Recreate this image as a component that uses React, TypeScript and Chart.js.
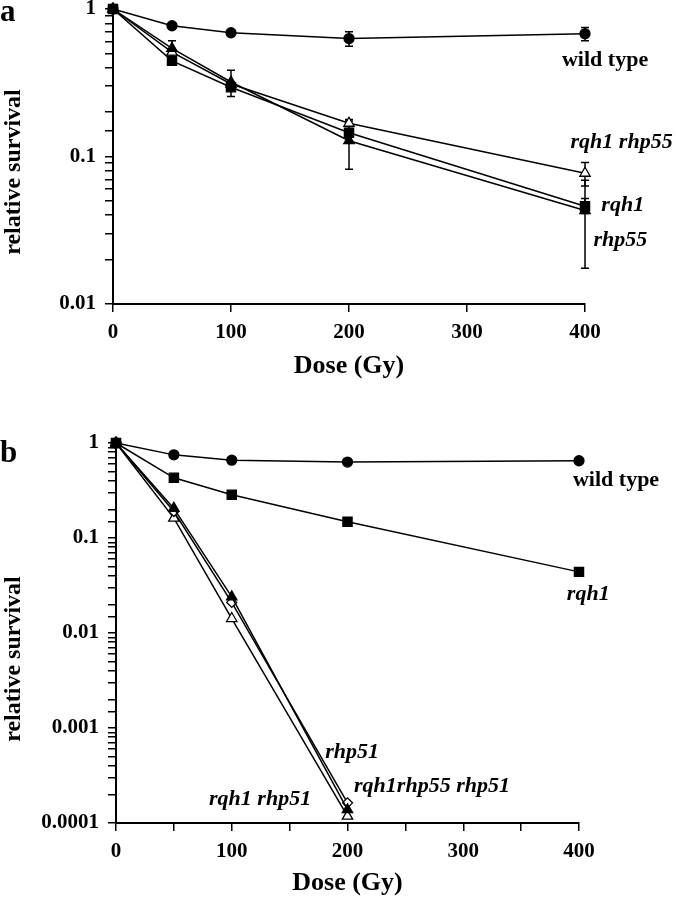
import React, { useEffect, useRef } from 'react';
import { Chart, registerables } from 'chart.js';
Chart.register(...registerables);

const FONT = "'Liberation Serif', 'Times New Roman', serif";

// ---------- Panel a data ----------
const doseA = [0, 50, 100, 200, 400];
const wildTypeA = [1, 0.77, 0.69, 0.63, 0.68];
const rqh1A = [1, 0.445, 0.295, 0.145, 0.046];
const rhp55A = [1, 0.54, 0.32, 0.128, 0.043];
const rqh1rhp55A = [1, 0.51, 0.31, 0.168, 0.077];
const wildTypeAErr = [null, null, null, [0.56, 0.70], [0.61, 0.75]];
const rqh1AErr = [null, null, null, null, [0.041, 0.052]];
const rhp55AErr = [null, [0.47, 0.61], [0.255, 0.385], [0.082, 0.174], [0.0175, 0.069]];
const rqh1rhp55AErr = [null, null, null, [0.16, 0.178], [0.063, 0.091]];
const yTickValuesA = [1, 0.1, 0.01];
const yTickLabelsA = ['1', '0.1', '0.01'];

// ---------- Panel b data ----------
const doseB = [0, 50, 100, 200, 400];
const doseB51 = [0, 50, 100, 200];
const wildTypeB = [1, 0.75, 0.66, 0.63, 0.65];
const rqh1B = [1, 0.43, 0.285, 0.148, 0.044];
const rhp51B = [1, 0.205, 0.024, 0.000138];
const rqh1rhp51B = [1, 0.162, 0.0142, 0.000118];
const rqh1rhp55rhp51B = [1, 0.19, 0.021, 0.000163];
const yTickValuesB = [1, 0.1, 0.01, 0.001, 0.0001];
const yTickLabelsB = ['1', '0.1', '0.01', '0.001', '0.0001'];

const xTickLabels = ['0', '100', '200', '300', '400'];
const xTickValues = [0, 100, 200, 300, 400];

type Err = number[] | null;
type Series = {
  x: number[];
  y: number[];
  err?: Err[];
  style: string;
  filled: boolean;
  radius: number;
};
type Note = { text: string; x: number; y: number; italic: boolean };

type Spec = {
  height: number;
  padTop: number;
  padRight: number;
  yWidth: number;
  xHeight: number;
  xStep: number;
  titlePad: number;
  yMin: number;
  yTickValues: number[];
  yTickLabels: string[];
  series: Series[];
  notes: Note[];
  letter: string;
  letterBaseline: number;
  yTitleCenter: number;
};

const specA: Spec = {
  height: 400,
  padTop: 9,
  padRight: 91,
  yWidth: 113,
  xHeight: 96,
  xStep: 100,
  titlePad: 18,
  yMin: 0.01,
  yTickValues: yTickValuesA,
  yTickLabels: yTickLabelsA,
  series: [
    { x: doseA, y: wildTypeA, err: wildTypeAErr, style: 'circle', filled: true, radius: 5 },
    { x: doseA, y: rqh1A, err: rqh1AErr, style: 'rect', filled: true, radius: 6.5 },
    { x: doseA, y: rhp55A, err: rhp55AErr, style: 'triangle', filled: true, radius: 6 },
    { x: doseA, y: rqh1rhp55A, err: rqh1rhp55AErr, style: 'triangle', filled: false, radius: 6 },
  ],
  notes: [
    { text: 'wild type', x: 417, y: 0.45, italic: false },
    { text: 'rqh1 rhp55', x: 431, y: 0.124, italic: true },
    { text: 'rqh1', x: 432, y: 0.047, italic: true },
    { text: 'rhp55', x: 430, y: 0.027, italic: true },
  ],
  letter: 'a',
  letterBaseline: 21,
  yTitleCenter: 172,
};

const specB: Spec = {
  height: 479,
  padTop: 23,
  padRight: 97,
  yWidth: 116,
  xHeight: 76,
  xStep: 50,
  titlePad: 0,
  yMin: 0.0001,
  yTickValues: yTickValuesB,
  yTickLabels: yTickLabelsB,
  series: [
    { x: doseB, y: wildTypeB, style: 'circle', filled: true, radius: 5 },
    { x: doseB, y: rqh1B, style: 'rect', filled: true, radius: 6.5 },
    { x: doseB51, y: rhp51B, style: 'triangle', filled: true, radius: 6 },
    { x: doseB51, y: rqh1rhp55rhp51B, style: 'rectRot', filled: false, radius: 5 },
    { x: doseB51, y: rqh1rhp51B, style: 'triangle', filled: false, radius: 6 },
  ],
  notes: [
    { text: 'wild type', x: 432, y: 0.408, italic: false },
    { text: 'rqh1', x: 408, y: 0.0257, italic: true },
    { text: 'rhp51', x: 204, y: 0.000559, italic: true },
    { text: 'rqh1rhp55 rhp51', x: 273, y: 0.000245, italic: true },
    { text: 'rqh1 rhp51', x: 124.5, y: 0.000179, italic: true },
  ],
  letter: 'b',
  letterBaseline: 42,
  yTitleCenter: 239,
};

function labelFor(v: number, values: number[], labels: string[]) {
  for (let i = 0; i < values.length; i++) {
    if (Math.abs(v - values[i]) / values[i] < 1e-6) return labels[i];
  }
  return '';
}

function buildConfig(spec: Spec): any {
  const overlay = {
    id: 'overlay',
    beforeDatasetsDraw(chart: any) {
      const { ctx } = chart;
      const xs = chart.scales.x;
      const ys = chart.scales.y;
      ctx.save();
      ctx.strokeStyle = '#000';
      ctx.lineWidth = 1.5;
      spec.series.forEach((s) => {
        if (!s.err) return;
        s.err.forEach((e, i) => {
          if (!e) return;
          const px = xs.getPixelForValue(s.x[i]);
          const y1 = ys.getPixelForValue(e[0]);
          const y2 = ys.getPixelForValue(e[1]);
          ctx.beginPath();
          ctx.moveTo(px, y1);
          ctx.lineTo(px, y2);
          ctx.moveTo(px - 4, y1);
          ctx.lineTo(px + 4, y1);
          ctx.moveTo(px - 4, y2);
          ctx.lineTo(px + 4, y2);
          ctx.stroke();
        });
      });
      ctx.restore();
    },
    afterDraw(chart: any) {
      const { ctx } = chart;
      const xs = chart.scales.x;
      const ys = chart.scales.y;
      ctx.save();
      ctx.fillStyle = '#000';
      ctx.textAlign = 'center';
      ctx.textBaseline = 'middle';
      spec.notes.forEach((n) => {
        ctx.font = `${n.italic ? 'italic ' : ''}bold 22px ${FONT}`;
        ctx.fillText(n.text, xs.getPixelForValue(n.x), ys.getPixelForValue(n.y));
      });
      // panel letter
      ctx.textAlign = 'left';
      ctx.textBaseline = 'alphabetic';
      ctx.font = `bold 31px ${FONT}`;
      ctx.fillText(spec.letter, 0, spec.letterBaseline);
      // y title
      ctx.translate(14, spec.yTitleCenter);
      ctx.rotate(-Math.PI / 2);
      ctx.textAlign = 'center';
      ctx.textBaseline = 'middle';
      ctx.font = `bold 24px ${FONT}`;
      ctx.fillText('relative survival', 0, 0);
      ctx.restore();
    },
  };

  const tickFont = { family: FONT, size: 21, weight: 'bold' as const };
  const grid = {
    display: true,
    drawOnChartArea: false,
    drawTicks: true,
    tickLength: 8,
    color: '#000',
    lineWidth: 1.5,
  };
  const border = { display: true, color: '#000', width: 2 };

  return {
    type: 'scatter',
    data: {
      datasets: spec.series.map((s) => ({
        data: s.x.map((xv, i) => ({ x: xv, y: s.y[i] })),
        showLine: true,
        borderColor: '#000',
        borderWidth: 1.5,
        pointStyle: s.style,
        pointRadius: s.radius,
        pointBackgroundColor: s.filled ? '#000' : '#fff',
        pointBorderColor: '#000',
        pointBorderWidth: 1.3,
        clip: false,
        tension: 0,
      })),
    },
    options: {
      responsive: false,
      animation: false,
      devicePixelRatio: 1,
      layout: { padding: { left: 0, top: spec.padTop, right: spec.padRight, bottom: 0 } },
      plugins: { legend: { display: false }, tooltip: { enabled: false } },
      scales: {
        x: {
          type: 'linear',
          min: 0,
          max: 400,
          ticks: {
            stepSize: spec.xStep,
            autoSkip: false,
            maxRotation: 0,
            color: '#000',
            font: tickFont,
            padding: 8,
            callback: (v: number) => labelFor(v + 1e-9, xTickValues.map((t) => t + 1e-9), xTickLabels),
          },
          grid,
          border,
          title: {
            display: true,
            text: 'Dose (Gy)',
            color: '#000',
            font: { family: FONT, size: 26, weight: 'bold' },
            padding: { top: 0, bottom: spec.titlePad },
          },
          afterFit: (s: any) => {
            s.height = spec.xHeight;
            s.paddingLeft = 0;
            s.paddingRight = 0;
          },
        },
        y: {
          type: 'logarithmic',
          min: spec.yMin,
          max: 1,
          ticks: {
            autoSkip: false,
            color: '#000',
            font: tickFont,
            padding: 9,
            callback: (v: number) => labelFor(v, spec.yTickValues, spec.yTickLabels),
          },
          grid,
          border,
          afterFit: (s: any) => {
            s.width = spec.yWidth;
            s.paddingTop = 0;
            s.paddingBottom = 0;
          },
        },
      },
    },
    plugins: [overlay],
  };
}

function Panel({ spec, top }: { spec: Spec; top: number }) {
  const ref = useRef<HTMLCanvasElement>(null);
  useEffect(() => {
    const chart = new Chart(ref.current as HTMLCanvasElement, buildConfig(spec));
    return () => chart.destroy();
  }, []);
  return (
    <canvas
      ref={ref}
      width={676}
      height={spec.height}
      style={{ position: 'absolute', left: 0, top, width: 676, height: spec.height }}
    />
  );
}

export default function App() {
  return (
    <div style={{ position: 'absolute', left: 0, top: 0, width: 676, height: 899, background: '#fff' }}>
      <Panel spec={specA} top={0} />
      <Panel spec={specB} top={420} />
    </div>
  );
}
